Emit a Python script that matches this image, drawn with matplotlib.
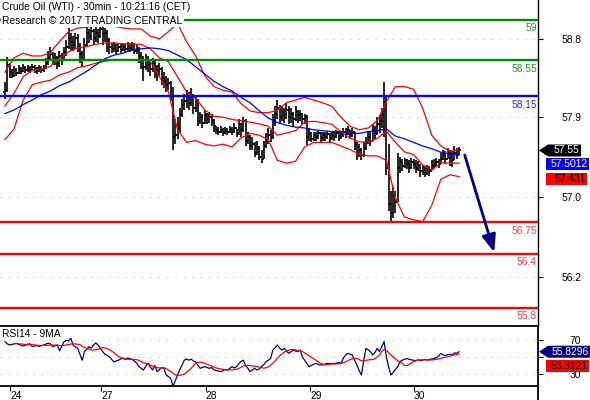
import numpy as np
import pandas as pd
import matplotlib
matplotlib.use('Agg')
import matplotlib.pyplot as plt
from matplotlib.patches import Polygon
from matplotlib.transforms import blended_transform_factory

plt.rcParams['font.family'] = ['Liberation Sans', 'DejaVu Sans']

# WTI 30 min bars (high / low / close), open = previous close
first_open = 58.20
highs = [
    58.31, 58.59, 58.52, 58.46, 58.49, 58.47, 58.50, 58.48, 58.51, 58.49,
    58.50, 58.49, 58.51, 58.50, 58.48, 58.50, 58.49, 58.50, 58.58, 58.66,
    58.70, 58.64, 58.63, 58.60, 58.66, 58.63, 58.70, 58.78, 58.91, 58.86,
    58.82, 58.86, 58.84, 58.74, 58.66, 58.80, 58.93, 58.90, 58.93, 58.90,
    58.92, 58.90, 58.94, 58.92, 58.91, 58.89, 58.80, 58.74, 58.76, 58.73,
    58.74, 58.73, 58.74, 58.73, 58.75, 58.74, 58.76, 58.74, 58.73, 58.70,
    58.64, 58.60, 58.62, 58.60, 58.56, 58.58, 58.55, 58.50, 58.52, 58.48,
    58.42, 58.38, 58.36, 58.32, 58.26, 57.90, 57.92, 58.02, 58.12, 58.18,
    58.22, 58.20, 58.24, 58.18, 58.16, 58.12, 57.98, 57.96, 58.00, 57.97,
    57.98, 57.96, 57.90, 57.82, 57.81, 57.82, 57.80, 57.81, 57.80, 57.82,
    57.81, 57.86, 57.79, 57.90, 57.86, 57.92, 57.90, 57.76, 57.72, 57.70,
    57.64, 57.66, 57.60, 57.56, 57.66, 57.74, 57.80, 57.78, 57.96, 58.04,
    58.11, 58.06, 58.04, 58.02, 58.08, 58.04, 58.02, 57.98, 58.04, 58.00,
    58.00, 57.97, 57.96, 57.94, 57.80, 57.76, 57.76, 57.75, 57.77, 57.75,
    57.76, 57.75, 57.77, 57.74, 57.76, 57.75, 57.78, 57.76, 57.77, 57.80,
    57.80, 57.82, 57.78, 57.80, 57.76, 57.64, 57.62, 57.58, 57.64, 57.70,
    57.76, 57.76, 57.84, 57.82, 57.92, 57.94, 58.02, 58.31, 58.14, 57.62,
    57.10, 57.14, 57.10, 57.52, 57.48, 57.46, 57.47, 57.46, 57.44, 57.47,
    57.46, 57.44, 57.43, 57.40, 57.39, 57.38, 57.39, 57.38, 57.44, 57.46,
    57.47, 57.46, 57.52, 57.56, 57.54, 57.58, 57.56, 57.54, 57.60, 57.58, 57.59,
]
lows = [
    58.12, 58.20, 58.36, 58.35, 58.37, 58.38, 58.40, 58.40, 58.42, 58.41,
    58.42, 58.41, 58.43, 58.41, 58.40, 58.42, 58.41, 58.42, 58.45, 58.50,
    58.54, 58.50, 58.50, 58.46, 58.48, 58.50, 58.55, 58.60, 58.68, 58.66,
    58.65, 58.68, 58.64, 58.52, 58.48, 58.55, 58.70, 58.74, 58.78, 58.72,
    58.76, 58.74, 58.80, 58.72, 58.76, 58.64, 58.62, 58.63, 58.64, 58.62,
    58.64, 58.63, 58.65, 58.64, 58.66, 58.64, 58.66, 58.62, 58.62, 58.52,
    58.46, 58.32, 58.44, 58.42, 58.38, 58.42, 58.36, 58.32, 58.38, 58.28,
    58.24, 58.20, 58.22, 58.10, 57.56, 57.62, 57.68, 57.74, 57.92, 58.00,
    58.02, 58.00, 58.04, 57.96, 57.98, 57.82, 57.84, 57.80, 57.84, 57.84,
    57.86, 57.82, 57.76, 57.73, 57.72, 57.74, 57.71, 57.73, 57.72, 57.74,
    57.72, 57.74, 57.70, 57.72, 57.70, 57.76, 57.60, 57.62, 57.56, 57.55,
    57.48, 57.50, 57.44, 57.41, 57.45, 57.58, 57.62, 57.64, 57.68, 57.82,
    57.90, 57.86, 57.88, 57.86, 57.90, 57.84, 57.86, 57.82, 57.88, 57.86,
    57.88, 57.84, 57.84, 57.61, 57.66, 57.64, 57.66, 57.65, 57.68, 57.64,
    57.66, 57.65, 57.68, 57.64, 57.67, 57.66, 57.69, 57.66, 57.68, 57.70,
    57.69, 57.72, 57.68, 57.70, 57.56, 57.44, 57.48, 57.44, 57.48, 57.56,
    57.62, 57.60, 57.66, 57.68, 57.72, 57.74, 57.80, 57.70, 57.28, 56.88,
    56.76, 56.80, 56.86, 56.98, 57.30, 57.32, 57.36, 57.34, 57.30, 57.34,
    57.34, 57.30, 57.32, 57.26, 57.28, 57.26, 57.28, 57.27, 57.33, 57.35,
    57.37, 57.36, 57.40, 57.44, 57.40, 57.45, 57.38, 57.37, 57.44, 57.46, 57.50,
]
closes = [
    58.22, 58.50, 58.42, 58.38, 58.44, 58.41, 58.46, 58.43, 58.47, 58.44,
    58.46, 58.44, 58.48, 58.45, 58.43, 58.46, 58.44, 58.47, 58.52, 58.58,
    58.62, 58.55, 58.58, 58.52, 58.60, 58.56, 58.64, 58.70, 58.80, 58.76,
    58.72, 58.80, 58.70, 58.62, 58.55, 58.72, 58.85, 58.82, 58.88, 58.80,
    58.86, 58.82, 58.90, 58.84, 58.86, 58.78, 58.70, 58.68, 58.72, 58.66,
    58.70, 58.67, 58.70, 58.68, 58.71, 58.69, 58.72, 58.66, 58.68, 58.60,
    58.55, 58.48, 58.56, 58.50, 58.46, 58.52, 58.44, 58.40, 58.46, 58.36,
    58.32, 58.28, 58.30, 58.16, 57.70, 57.72, 57.80, 57.95, 58.05, 58.10,
    58.14, 58.08, 58.16, 58.02, 58.10, 57.88, 57.92, 57.86, 57.94, 57.90,
    57.92, 57.88, 57.82, 57.78, 57.76, 57.78, 57.74, 57.77, 57.75, 57.78,
    57.76, 57.80, 57.74, 57.84, 57.78, 57.88, 57.66, 57.70, 57.60, 57.62,
    57.52, 57.58, 57.48, 57.46, 57.60, 57.66, 57.72, 57.70, 57.88, 57.95,
    58.02, 57.92, 57.98, 57.94, 58.00, 57.92, 57.96, 57.90, 57.98, 57.94,
    57.96, 57.90, 57.92, 57.70, 57.74, 57.68, 57.72, 57.70, 57.74, 57.69,
    57.72, 57.70, 57.73, 57.69, 57.72, 57.70, 57.74, 57.71, 57.73, 57.76,
    57.74, 57.78, 57.72, 57.76, 57.62, 57.52, 57.56, 57.50, 57.58, 57.64,
    57.70, 57.66, 57.78, 57.74, 57.84, 57.88, 57.96, 58.05, 57.35, 56.95,
    56.86, 57.06, 56.98, 57.36, 57.42, 57.38, 57.44, 57.40, 57.36, 57.42,
    57.40, 57.36, 57.38, 57.32, 57.35, 57.30, 57.34, 57.32, 57.38, 57.40,
    57.42, 57.40, 57.45, 57.50, 57.46, 57.52, 57.48, 57.44, 57.52, 57.50, 57.55,
]

# bollinger bands and moving average, read every 4 bars
band_step = 4
upper_band = [
    58.42, 58.58, 58.63, 58.60, 58.60, 58.64, 58.76, 58.87, 58.91, 58.92,
    58.94, 58.95, 58.93, 58.91, 58.90, 58.90, 58.82, 58.79, 58.87, 58.96,
    58.76, 58.60, 58.38, 58.26, 58.22, 58.20, 58.07, 57.99, 57.97, 57.97,
    58.00, 58.08, 58.11, 58.14, 58.11, 58.08, 58.04, 57.92, 57.82, 57.78,
    57.80, 57.88, 58.09, 58.26, 58.26, 58.23, 58.02, 57.72, 57.60, 57.54, 57.56,
]
lower_band = [
    57.67, 57.79, 58.11, 58.28, 58.31, 58.33, 58.39, 58.42, 58.47, 58.49,
    58.52, 58.54, 58.56, 58.56, 58.56, 58.56, 58.54, 58.37, 58.20, 57.78,
    57.64, 57.66, 57.62, 57.60, 57.62, 57.59, 57.69, 57.74, 57.72, 57.67,
    57.44, 57.41, 57.43, 57.59, 57.64, 57.64, 57.64, 57.60, 57.56, 57.51,
    57.49, 57.49, 57.44, 57.02, 56.81, 56.78, 56.76, 56.94, 57.23, 57.28, 57.26,
]
ma_line = [
    57.96, 58.00, 58.06, 58.11, 58.17, 58.21, 58.27, 58.31, 58.37, 58.43,
    58.50, 58.57, 58.61, 58.63, 58.67, 58.68, 58.69, 58.68, 58.66, 58.61,
    58.56, 58.48, 58.40, 58.32, 58.26, 58.21, 58.14, 58.08, 57.99, 57.91,
    57.86, 57.83, 57.81, 57.80, 57.78, 57.77, 57.76, 57.76, 57.74, 57.74,
    57.76, 57.77, 57.79, 57.71, 57.68, 57.64, 57.60, 57.57, 57.53, 57.51, 57.50,
]

# RSI 14
rsi = [
    67.5, 65.0, 63.6, 64.2, 65.0, 65.6, 64.4, 63.5, 62.5, 63.4,
    64.6, 65.0, 61.7, 62.3, 63.0, 62.0, 62.8, 63.6, 64.8, 65.6,
    65.0, 61.7, 62.6, 63.6, 57.0, 62.0, 67.5, 69.0, 68.2, 71.4,
    63.6, 61.5, 60.0, 53.0, 46.0, 56.0, 58.5, 61.6, 60.2, 63.8,
    66.0, 63.6, 60.0, 56.0, 53.0, 51.5, 50.0, 47.0, 44.0, 45.2,
    46.0, 47.5, 48.5, 47.0, 48.5, 47.8, 47.0, 45.0, 42.7, 38.5,
    36.5, 34.6, 39.0, 42.7, 38.0, 34.6, 40.0, 32.7, 35.0, 37.5,
    36.7, 28.8, 27.0, 25.0, 16.0, 22.0, 29.0, 35.0, 40.4, 46.0,
    47.5, 46.0, 47.2, 45.0, 44.0, 40.0, 36.6, 37.8, 38.5, 37.5,
    36.6, 37.5, 35.0, 34.0, 33.5, 32.7, 33.8, 35.0, 34.6, 36.5,
    38.5, 37.0, 38.5, 42.0, 44.5, 46.0, 40.0, 36.6, 32.7, 34.8,
    36.6, 34.6, 36.0, 38.5, 41.0, 44.0, 46.0, 48.0, 57.8, 60.5,
    63.6, 60.0, 57.8, 59.8, 56.5, 54.0, 55.8, 57.8, 56.5, 56.0,
    57.8, 50.0, 46.0, 42.0, 38.5, 40.0, 41.5, 42.4, 41.0, 40.6,
    40.4, 41.5, 42.4, 41.8, 42.4, 42.0, 42.6, 43.5, 42.4, 48.0,
    52.0, 54.0, 53.0, 52.0, 46.0, 40.4, 34.0, 28.8, 45.0, 59.8,
    58.0, 56.0, 52.0, 55.0, 59.8, 56.0, 62.0, 67.5, 50.0, 38.0,
    28.8, 32.0, 35.5, 38.5, 44.3, 46.0, 47.0, 48.0, 47.0, 46.5,
    46.0, 45.4, 46.5, 45.5, 46.0, 47.0, 46.0, 47.0, 47.5, 48.0,
    49.0, 50.5, 54.0, 52.0, 51.5, 52.5, 53.0, 52.0, 54.5, 54.0, 55.83,
]

# key levels
resistances = [59.0, 58.55]
pivot = 58.15
supports = [56.75, 56.4, 55.8]
level_labels = {59.0: '59', 58.55: '58.55', 58.15: '58.15',
                56.75: '56.75', 56.4: '56.4', 55.8: '55.8'}
target = 56.42

day_ticks = [2.3, 42.3, 88.4, 134.4, 180.2]
day_labels = ['24', '27', '28', '29', '30']
price_ticks = [58.79, 57.92, 57.03, 56.14]
price_tick_labels = ['58.8', '57.9', '57.0', '56.2']
rsi_ticks = [70, 50, 30]

last_tags = ['57.55', '57.5012', '57.431']
rsi_tags = ['55.8296', '53.3121']

W, H = 590, 400
FS = 7.4
GRID = dict(color='#b8b8b8', linestyle=(0, (1, 7)), linewidth=0.75)

fig = plt.figure(figsize=(W / 100, H / 100), dpi=100)
ax = fig.add_axes([0, 74 / H, 538 / W, 326 / H])
ax_rsi = fig.add_axes([0, 14 / H, 538 / W, 60 / H], sharex=ax)

x = np.arange(len(closes))
c = np.array(closes)
o = np.r_[first_open, c[:-1]]

# price bars
ax.vlines(x, lows, highs, color='black', lw=1.2, zorder=2)
ax.hlines(o, x - 0.8, x, color='black', lw=1.2, zorder=2)
ax.hlines(c, x, x + 0.8, color='black', lw=1.2, zorder=2)

# bands + ma
bx = np.arange(len(upper_band)) * band_step
up = np.array(upper_band)
lo = np.array(lower_band)
ax.plot(bx, up, color='red', lw=0.9, zorder=2)
ax.plot(bx, (up + lo) / 2, color='red', lw=0.9, zorder=2)
ax.plot(bx, lo, color='red', lw=0.9, zorder=2)
ax.plot(bx, ma_line, color='blue', lw=0.9, zorder=2)

# levels
lbl_tr = blended_transform_factory(ax.transAxes, ax.transData)
for lv, col, tcol in ([(v, '#008c00', '#229922') for v in resistances]
                      + [(pivot, '#0000ff', '#3030ff')]
                      + [(v, '#ff0000', '#ff4040') for v in supports]):
    ax.axhline(lv, color=col, lw=1.7, zorder=3)
    ax.annotate(level_labels[lv], xy=(0.998, lv), xycoords=lbl_tr,
                xytext=(0, -2.2), textcoords='offset points',
                ha='right', va='top', color=tcol, fontsize=FS, zorder=4)

# projection arrow
ax.annotate('', xy=(x[-1] + 15.5, target), xytext=(x[-1] + 2.5, 57.50),
            arrowprops=dict(arrowstyle='-|>,head_length=0.75,head_width=0.3',
                            color='#000080', lw=2, mutation_scale=14,
                            shrinkA=0, shrinkB=0), zorder=4)

ax.set_xlim(-2.2, 234.8)
ax.set_ylim(55.6, 59.222)
ax.set_yticks(price_ticks, price_tick_labels)
ax.yaxis.tick_right()
ax.tick_params(axis='y', direction='out', length=3.6, width=0.8, pad=27.6,
               labelsize=FS)
for t in ax.get_yticklabels():
    t.set_horizontalalignment('right')
ax.tick_params(axis='x', bottom=False, labelbottom=False)
ax.grid(axis='y', **GRID)
for s in ['left', 'top', 'bottom']:
    ax.spines[s].set_visible(False)
ax.spines['right'].set_linewidth(1.0)

ax.text(0.004, 1 - 6.5 / 326, 'Crude Oil (WTI) - 30min - 10:21:16 (CET)',
        transform=ax.transAxes, ha='left', va='center', fontsize=FS,
        color='black', zorder=5)
ax.text(0.004, 1 - 20.5 / 326, 'Research \u00a9 2017 TRADING CENTRAL',
        transform=ax.transAxes, ha='left', va='center', fontsize=FS,
        color='black', zorder=5,
        bbox=dict(boxstyle='square,pad=0.15', fc='white', ec='none'))

# RSI panel
rsi_ma = pd.Series(rsi).rolling(9, min_periods=5).mean()
ax_rsi.plot(x, rsi, color='#000080', lw=0.9)
ax_rsi.plot(x, rsi_ma, color='red', lw=0.9)
ax_rsi.set_ylim(16.1, 85.65)
ax_rsi.set_yticks(rsi_ticks, ['70', '', '30'])
ax_rsi.yaxis.tick_right()
ax_rsi.tick_params(axis='y', direction='out', length=3.6, width=0.8, pad=27.6,
                   labelsize=FS)
for t in ax_rsi.get_yticklabels():
    t.set_horizontalalignment('right')
ax_rsi.grid(axis='y', **GRID)
ax_rsi.spines['left'].set_visible(False)
for s in ['top', 'bottom', 'right']:
    ax_rsi.spines[s].set_linewidth(1.3)
ax_rsi.plot([1, 1], [0, -14 / 60], transform=ax_rsi.transAxes, color='black',
            lw=1.3, clip_on=False)
ax_rsi.set_xticks(day_ticks, day_labels)
ax_rsi.tick_params(axis='x', direction='out', length=3.6, width=0.8, pad=0.3,
                   labelsize=FS)
for t in ax_rsi.get_xticklabels():
    t.set_horizontalalignment('left')
ax_rsi.text(0.004, 1 - 8 / 60, 'RSI14 - 9MA', transform=ax_rsi.transAxes,
            ha='left', va='center', fontsize=FS)


def tag(a, y, text, fc, tc, x_right, arrow=False):
    tr = blended_transform_factory(fig.transFigure, a.transData)
    y0, y1 = a.get_ylim()
    per_px = (y1 - y0) / (a.get_position().height * H)
    h = 6 * per_px
    xl, xt, xr = 546 / W, 539 / W, x_right / W
    if arrow:
        pts = [(xt, y), (xl + 2 / W, y + h), (xr, y + h), (xr, y - h), (xl + 2 / W, y - h)]
    else:
        pts = [(xl, y + h), (xr, y + h), (xr, y - h), (xl, y - h)]
    a.add_patch(Polygon(pts, closed=True, transform=tr, fc=fc, ec='none',
                        clip_on=False, zorder=6))
    a.text(xr - 1.5 / W, y, text, transform=tr, ha='right', va='center',
           color=tc, fontsize=FS, zorder=7, clip_on=False)
    return per_px


pp = tag(ax, c[-1], last_tags[0], 'black', 'white', 581, arrow=True)
tag(ax, c[-1] - 13.5 * pp, last_tags[1], '#0000ff', 'white', 589)
tag(ax, c[-1] - 28.5 * pp, last_tags[2], '#ff0000', 'black', 587)
rp = tag(ax_rsi, rsi[-1], rsi_tags[0], '#000080', 'white', 590, arrow=True)
tag(ax_rsi, rsi[-1] - 14 * rp, rsi_tags[1], '#ff0000', 'black', 589)

fig.savefig('out.png', dpi=100)
